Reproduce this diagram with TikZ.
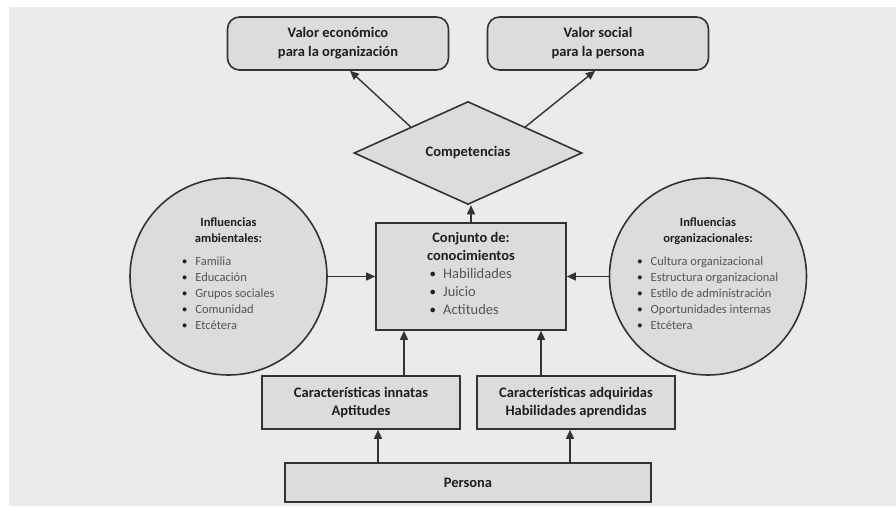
\documentclass[tikz,border=0pt]{standalone}
\usepackage{fontspec}
\setmainfont{Carlito}
\usetikzlibrary{shapes.geometric,arrows.meta,calc}

\definecolor{fondo}{HTML}{EBEBEB}
\definecolor{relleno}{HTML}{DCDCDC}
\definecolor{borde}{HTML}{333333}
\definecolor{tinta}{HTML}{1E1E1E}
\definecolor{gris}{HTML}{555555}

\newcommand{\vineta}[1]{\makebox[13pt][l]{\raisebox{1pt}{\scalebox{0.75}{\textbullet}}}{\color{gris}\mdseries #1}}

\tikzset{
	caja/.style={draw=borde,fill=relleno,line width=1.6pt,inner sep=0pt,align=center,
		text=tinta,font=\fontsize{14.5}{18}\selectfont\bfseries},
	redonda/.style={caja,rounded corners=12pt,minimum width=221pt,minimum height=53pt,
		font=\fontsize{14.5}{19}\selectfont\bfseries},
	rombo/.style={caja,diamond,minimum width=228pt,minimum height=103pt},
	circulo/.style={caja,circle,minimum size=197pt,font=\fontsize{12.5}{16}\selectfont\bfseries},
	flecha/.style={draw=borde,line width=1.4pt,-{Triangle[length=9pt,width=8pt]}}
}

\begin{document}
\begin{tikzpicture}[x=1pt,y=-1pt]
	\useasboundingbox (0,0) rectangle (896,506);
	\fill[white] (0,0) rectangle (896,506);
	\fill[fondo] (9,7) rectangle (896,506);

	% arriba
	\node[redonda] (econ) at (338,43.5) {Valor económico\\para la organización};
	\node[redonda] (social) at (598,43.5) {Valor social\\para la persona};
	\node[rombo] (comp) at (468,153) {Competencias};

	% centro
	\node[caja,minimum width=190pt,minimum height=107pt] (conj) at (471,276.5)
		{Conjunto de:\\conocimientos\\
		\begin{tabular}[t]{@{}l@{}}\vineta{Habilidades}\\ \vineta{Juicio}\\ \vineta{Actitudes}\end{tabular}};
	\node[circulo] (amb) at (228.5,276.5)
		{Influencias\\ambientales:\\[7pt]
		\begin{tabular}[t]{@{}l@{}}\vineta{Familia}\\ \vineta{Educación}\\ \vineta{Grupos sociales}\\
		\vineta{Comunidad}\\ \vineta{Etcétera}\end{tabular}};
	\node[circulo] (org) at (708,276.5)
		{Influencias\\organizacionales:\\[7pt]
		\begin{tabular}[t]{@{}l@{}}\vineta{Cultura organizacional}\\ \vineta{Estructura organizacional}\\
		\vineta{Estilo de administración}\\ \vineta{Oportunidades internas}\\ \vineta{Etcétera}\end{tabular}};

	% abajo
	\node[caja,minimum width=198pt,minimum height=53pt] (inn) at (361,402.5)
		{Características innatas\\Aptitudes};
	\node[caja,minimum width=198pt,minimum height=53pt] (adq) at (576,402.5)
		{Características adquiridas\\Habilidades aprendidas};
	\node[caja,minimum width=366pt,minimum height=39pt] (per) at (468,482.5) {Persona};

	% flechas
	\draw[flecha] (comp.north west) -- ([xshift=12pt]econ.south);
	\draw[flecha] (comp.north east) -- ([xshift=-3pt]social.south);
	\draw[flecha] (conj.north) -- (conj.north |- comp.south);
	\draw[flecha] (amb.east) -- (conj.west);
	\draw[flecha] (org.west) -- (conj.east);
	\draw[flecha] ([xshift=43pt]inn.north) -- ([xshift=43pt]inn.north |- conj.south);
	\draw[flecha] ([xshift=-35pt]adq.north) -- ([xshift=-35pt]adq.north |- conj.south);
	\draw[flecha] ([xshift=-90pt]per.north) -- ([xshift=-90pt]per.north |- inn.south);
	\draw[flecha] ([xshift=102pt]per.north) -- ([xshift=102pt]per.north |- adq.south);
\end{tikzpicture}
\end{document}
